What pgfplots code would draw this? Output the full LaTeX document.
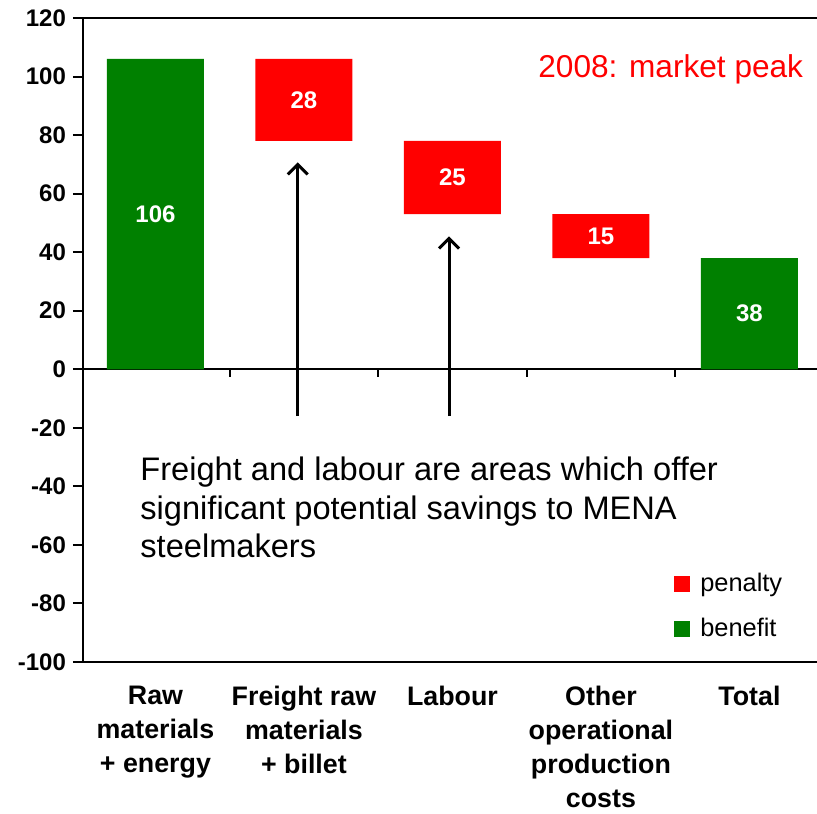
\documentclass[border=0pt]{standalone}
\usepackage{pgfplots}
\pgfplotsset{compat=1.18}
\usepackage{fontspec}
\setmainfont{Liberation Sans}
\usetikzlibrary{arrows.meta}
\definecolor{benefit}{RGB}{0,128,0}
\definecolor{penalty}{RGB}{255,0,0}
\begin{document}
\begin{tikzpicture}
\pgfplotsset{common/.style={
  scale only axis, width=367pt, height=322pt,
  xmin=-0.488, xmax=4.455, ymin=-100, ymax=120,
  at={(0,0)}, anchor=south west}}
\begin{axis}[common,
  ybar stacked, bar width=48.5pt,
  axis y line*=left, axis x line*=bottom,
  axis line style={line width=1pt, black},
  ytick={-100,-80,...,120},
  tick align=outside, major tick length=5pt,
  ytick style={line width=1pt, black},
  xtick={0,1,2,3,4},
  xtick style={draw=none},
  xticklabels={Raw\\materials\\+ energy, Freight raw\\materials\\+ billet, Labour, Other\\operational\\production\\costs, Total},
  xticklabel style={align=center, anchor=north, inner sep=1pt, font=\bfseries\fontsize{13.4}{17}\selectfont, yshift=-6pt},
  yticklabel style={font=\bfseries\fontsize{12}{14}\selectfont},
  /pgf/number format/assume math mode=true,
  legend cell align=left,
  legend image code/.code={\fill[#1] (0pt,-4pt) rectangle (8pt,4pt);},
  legend style={draw=none, fill=none, at={(rel axis cs:0.805,0.145)}, anchor=north west,
    font=\fontsize{12.7}{15}\selectfont, row sep=8pt, inner sep=0pt,
    /tikz/every even column/.append style={column sep=0pt},
    /tikz/every odd column/.append style={column sep=3pt}},
]
\addplot[draw=none, fill=none, forget plot] coordinates {(0,0) (1,78) (2,53) (3,38) (4,0)};
\addplot[draw=none, fill=penalty] coordinates {(0,0) (1,28) (2,25) (3,15) (4,0)};
\addplot[draw=none, fill=benefit] coordinates {(0,106) (1,0) (2,0) (3,0) (4,38)};
\legend{penalty, benefit}
\draw[line width=1pt] (rel axis cs:0,1) -- (rel axis cs:1,1);
\draw[line width=1pt] ([xshift=-5pt]axis cs:-0.488,0) -- (axis cs:4.455,0);
\draw[line width=1pt] (axis cs:0.5,0) -- ([yshift=-4pt]axis cs:0.5,0);
\draw[line width=1pt] (axis cs:1.5,0) -- ([yshift=-4pt]axis cs:1.5,0);
\draw[line width=1pt] (axis cs:2.5,0) -- ([yshift=-4pt]axis cs:2.5,0);
\draw[line width=1pt] (axis cs:3.5,0) -- ([yshift=-4pt]axis cs:3.5,0);
\draw[line width=1.5pt, -{Straight Barb[length=5pt,width=10pt]}] (axis cs:0.958,-16) -- (axis cs:0.958,70.7);
\draw[line width=1.5pt, -{Straight Barb[length=5pt,width=10pt]}] (axis cs:1.977,-16) -- (axis cs:1.977,45.4);
\node[anchor=north west, inner sep=0pt, align=left, font=\fontsize{16.3}{19.4}\selectfont]
  at (axis cs:-0.104,-29.7) {Freight and labour are areas which offer\\significant potential savings to MENA\\steelmakers};
\node[anchor=base, inner sep=0pt, text=penalty, font=\fontsize{15.8}{19}\selectfont]
  at (axis cs:3.47,99.6) {2008: market peak};
\end{axis}
\begin{axis}[common, hide axis]
\addplot[draw=none, mark=none, point meta=explicit symbolic, nodes near coords,
  every node near coord/.style={anchor=center, text=white, font=\bfseries\fontsize{12}{14}\selectfont}]
  coordinates {(0,53) [106] (1,92) [28] (2,65.5) [25] (3,45.5) [15] (4,19) [38]};
\end{axis}
\pgfresetboundingbox
\path (-41.5pt,-75.5pt) rectangle (367pt,331pt);
\end{tikzpicture}
\end{document}
